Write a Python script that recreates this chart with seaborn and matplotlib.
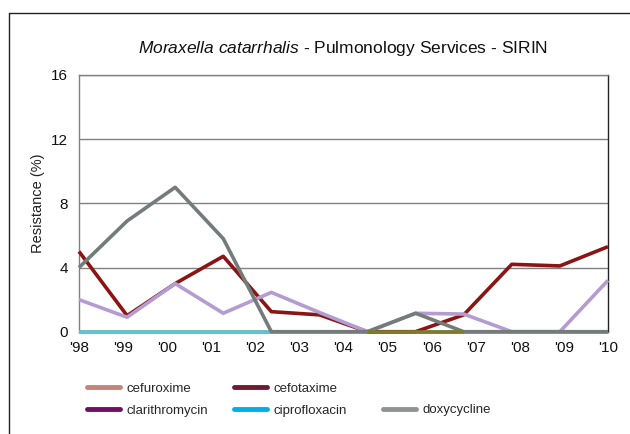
import numpy as np
import matplotlib
matplotlib.use("Agg")
import matplotlib.pyplot as plt
from matplotlib.lines import Line2D
import seaborn as sns

sns.set_theme(style="white")
plt.rcParams["font.family"] = ["Liberation Sans", "DejaVu Sans"]
plt.rcParams["mathtext.fontset"] = "custom"
plt.rcParams["mathtext.it"] = "Liberation Sans:italic"
plt.rcParams["mathtext.rm"] = "Liberation Sans"

# Year labels along the axis
year_labels = ["'98", "'99", "'00", "'01", "'02", "'03", "'04",
               "'05", "'06", "'07", "'08", "'09", "'10"]

# Resistance (%) per reporting period
cefuroxime = [0, 0, 0, 0, 0, 0, 0, 0, 0, 0, 0, 0]
cefotaxime = [5.0, 1.0, 3.0, 4.7, 1.25, 1.05, 0, 0, 1.05, 4.2, 4.1, 5.3]
clarithromycin = [2.0, 0.9, 3.0, 1.15, 2.45, 1.2, 0, 1.15, 1.1, 0, 0, 3.2]
ciprofloxacin = [0, 0, 0, 0, 0, 0, 0, 0, 0, 0, 0, 0]
doxycycline = [4.0, 6.9, 9.0, 5.8, 0, 0, 0, 1.15, 0, 0, 0, 0]
olive_series = [np.nan] * 6 + [0, 0, 0] + [np.nan] * 3

line_colors = {
    "cefuroxime": "#C48478",
    "ciprofloxacin": "#5BC6D0",
    "cefotaxime": "#8B1414",
    "clarithromycin": "#B49CD2",
    "doxycycline": "#737B7B",
    "olive": "#7E7B2C",
}
legend_names = ["cefuroxime", "cefotaxime", "clarithromycin",
                "ciprofloxacin", "doxycycline"]
legend_colors = ["#C48478", "#6E1A35", "#701060", "#00ADE8", "#8E9494"]

fig = plt.figure(figsize=(6.3, 4.34), dpi=100)
ax = fig.add_axes([0.1254, 0.2357, 0.965 - 0.1254, 0.8272 - 0.2357])

xpos = np.arange(len(cefotaxime))
lw = 2.6
draw_order = [
    ("cefuroxime", cefuroxime),
    ("ciprofloxacin", ciprofloxacin),
    ("cefotaxime", cefotaxime),
    ("clarithromycin", clarithromycin),
    ("doxycycline", doxycycline),
    ("olive", olive_series),
]
for name, vals in draw_order:
    sns.lineplot(x=xpos, y=np.array(vals, dtype=float), ax=ax,
                 color=line_colors[name], linewidth=lw, legend=False,
                 solid_capstyle="butt", clip_on=False, zorder=3)

ax.set_xlim(0, len(cefotaxime) - 1)
ax.set_ylim(0, 16)
ax.set_yticks([0, 4, 8, 12, 16])
ax.yaxis.grid(True, color="#808080", linewidth=1.0)
ax.xaxis.grid(False)
ax.tick_params(axis="y", length=0, pad=8, labelsize=11, colors="#111111")

# Year labels spread evenly along the axis, small ticks at each data period
label_pos = np.linspace(0, len(cefotaxime) - 1, len(year_labels))
ax.set_xticks(label_pos)
ax.set_xticklabels(year_labels)
ax.tick_params(axis="x", which="major", length=0, pad=6.5, labelsize=11,
               colors="#111111")
ax.set_xticks(xpos, minor=True)
ax.tick_params(axis="x", which="minor", length=2.5, width=0.8,
               color="#808080", direction="out")

for side in ["left", "top", "bottom"]:
    ax.spines[side].set_color("#808080")
    ax.spines[side].set_linewidth(1.0)
ax.spines["right"].set_color("#222222")
ax.spines["right"].set_linewidth(1.0)

ax.set_ylabel("Resistance (%)", fontsize=10.5, color="#222222", labelpad=4)
ax.set_xlabel("")
ax.set_title(r"$\it{Moraxella\ catarrhalis}$ - Pulmonology Services - SIRIN",
             fontsize=12.5, color="#111111", pad=16)

handles = [Line2D([], [], color=c, linewidth=3.5, solid_capstyle="round")
           for c in legend_colors]
leg_kw = dict(frameon=False, prop={"size": 9.5}, handlelength=2.5,
              handletextpad=0.5, labelspacing=0.7, borderpad=0.0)

# Two-column block: cefuroxime/clarithromycin, cefotaxime/ciprofloxacin
leg_a = fig.legend([handles[0], handles[2], handles[1], handles[3]],
                   [legend_names[0], legend_names[2], legend_names[1],
                    legend_names[3]],
                   ncol=2, loc="upper left", bbox_to_anchor=(0.128, 0.133),
                   columnspacing=1.9, **leg_kw)
# Third column holds doxycycline on the second row
leg_b = fig.legend([handles[4]], [legend_names[4]], loc="upper left",
                   bbox_to_anchor=(0.598, 0.084), **leg_kw)

# Outer frame
fig.add_artist(Line2D([9 / 630, 1.0], [1 - 13 / 434, 1 - 13 / 434],
                      transform=fig.transFigure, color="#222222", linewidth=1.0))
fig.add_artist(Line2D([9 / 630, 9 / 630], [0.0, 1 - 13 / 434],
                      transform=fig.transFigure, color="#222222", linewidth=1.0))

fig.savefig("out.png", dpi=100, facecolor="white")
